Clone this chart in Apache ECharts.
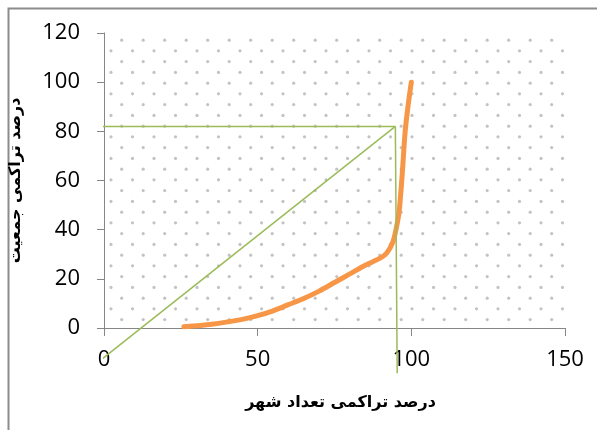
<!DOCTYPE html>
<html>
<head>
<meta charset="utf-8">
<script src="https://cdn.jsdelivr.net/npm/echarts@6/dist/echarts.min.js"></script>
<style>html,body{margin:0;padding:0;background:#fff;}#c{width:597px;height:430px;}</style>
</head>
<body>
<div id="c"></div>
<script>
// Data
var xTitle = 'درصد تراکمی تعداد شهر';
var yTitle = 'درصد تراکمی جمعیت';
var curve = [[26,0.5],[35,1.5],[45,3.5],[50,5],[55,7],[60,9.5],[65,12],[70,15],[75,18.5],[80,22],[85,25.5],[90,28.5],[92,30.5],[94,35],[95,40],[96,47],[97,62],[98,80],[99,91],[100,100]];
var greenH = [[-4.6,82],[94.8,82]];
var greenV = [[94.8,82],[95.4,-18.4]];
var greenDiag = [[94.8,82],[-6,-17.9]];
var xTicks = [0,50,100,150];
var yTicks = [0,20,40,60,80,100,120];

// dot pattern tile
var tile = document.createElement('canvas');
tile.width = 43; tile.height = 43;
var g = tile.getContext('2d');
g.fillStyle = '#c3c3c3';
var dots = [[3.5,7.8],[25,7.8],[14.2,18.6],[35.7,18.6],[3.5,29.4],[25,29.4],[14.2,40.2],[35.7,40.2]];
dots.forEach(function(d){ g.beginPath(); g.arc(d[0], d[1], 1.6, 0, Math.PI*2); g.fill(); });

var chart = echarts.init(document.getElementById('c'), null, {renderer:'canvas'});
var axisLine = {show:true, lineStyle:{color:'#868686', width:1}};
var labelFont = {color:'#000', fontSize:22, fontFamily:'Open Sans'};
var option = {
  animation:false,
  backgroundColor:'#fff',
  grid:{left:103, right:32, top:33, bottom:102, show:true, borderWidth:0,
        backgroundColor:{image:tile, repeat:'repeat'}},
  xAxis:{type:'value', min:xTicks[0], max:xTicks[xTicks.length-1], interval:50,
    axisLine:axisLine, axisTick:{show:true, length:8, inside:false, lineStyle:{color:'#868686'}},
    splitLine:{show:false},
    axisLabel:Object.assign({margin:21}, labelFont),
    name:xTitle, nameLocation:'middle', nameGap:67,
    nameTextStyle:{color:'#000', fontSize:16, fontWeight:'bold', fontFamily:'DejaVu Sans', padding:[0,0,0,12]}},
  yAxis:{type:'value', min:yTicks[0], max:yTicks[yTicks.length-1], interval:20,
    axisLine:axisLine, axisTick:{show:true, length:7, lineStyle:{color:'#868686'}},
    splitLine:{show:false},
    axisLabel:Object.assign({margin:24}, labelFont),
    name:yTitle, nameLocation:'middle', nameGap:80, nameRotate:90,
    nameTextStyle:{color:'#000', fontSize:16, fontWeight:'bold', fontFamily:'DejaVu Sans'}},
  series:[
    {type:'line', data:curve, smooth:0.3, showSymbol:false, clip:false,
     lineStyle:{color:'#F79646', width:5, cap:'round', join:'round'}},
    {type:'line', data:greenH, showSymbol:false, clip:false, lineStyle:{color:'#9BBB59', width:1.5}},
    {type:'line', data:greenV, showSymbol:false, clip:false, lineStyle:{color:'#9BBB59', width:1.5}},
    {type:'line', data:greenDiag, showSymbol:false, clip:false, lineStyle:{color:'#9BBB59', width:1.5}}
  ],
  graphic:[{type:'rect', left:6, top:6, shape:{width:700, height:600}, silent:true,
    style:{fill:'none', stroke:'#8c8c8c', lineWidth:2}}]
};
chart.setOption(option);
</script>
</body>
</html>
